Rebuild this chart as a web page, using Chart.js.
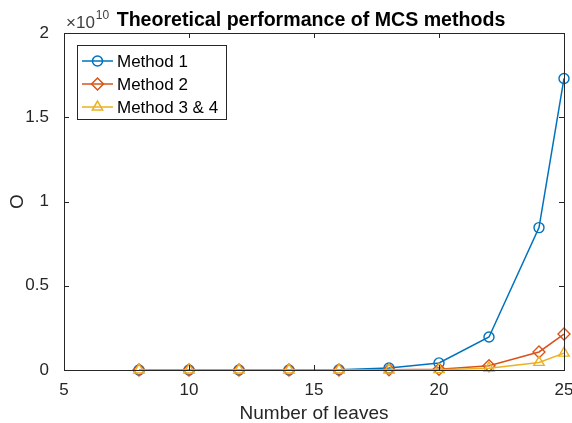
<!DOCTYPE html>
<html>
<head>
<meta charset="utf-8">
<script src="https://cdn.jsdelivr.net/npm/chart.js@4"></script>
<style>
  html, body { margin: 0; padding: 0; background: #fff; }
  #wrap { width: 572px; height: 423px; }
</style>
</head>
<body>
<div id="wrap"><canvas id="chart" width="572" height="423"></canvas></div>
<script>
// number of leaves (x)
const leaves = [8, 10, 12, 14, 16, 18, 20, 22, 24, 25];
// values (units of 1e10)
const method1 = [0, 0, 0, 0, 0.002, 0.012, 0.042, 0.196, 0.845, 1.73];
const method2 = [0, 0, 0, 0, 0, 0.001, 0.004, 0.025, 0.107, 0.213];
const method34 = [0, 0, 0, 0, 0, 0, 0.002, 0.011, 0.045, 0.1];
const xTicks = [5, 10, 15, 20, 25];
const yTicks = [0, 0.5, 1, 1.5, 2];
const seriesNames = ['Method 1', 'Method 2', 'Method 3 & 4'];

const FONT = '"Liberation Sans", Arial, sans-serif';

function toPoints(vals) {
    return leaves.map((x, i) => ({ x: x, y: vals[i] * 1e10 }));
}

const colors = ['#0072BD', '#D95319', '#EDB120'];
const shapes = ['circle', 'rectRot', 'triangle'];
const radii = [5, 6, 6];

const datasets = [method1, method2, method34].map((vals, i) => ({
    label: seriesNames[i],
    data: toPoints(vals),
    borderColor: colors[i],
    backgroundColor: 'rgba(0,0,0,0)',
    borderWidth: 1.5,
    pointStyle: shapes[i],
    pointRadius: radii[i],
    pointBorderWidth: 1.4,
    pointBackgroundColor: 'rgba(0,0,0,0)',
    pointBorderColor: colors[i],
    clip: false,
    order: 3 - i
}));

// box, inward ticks, title, exponent and legend like MATLAB
const matlabLook = {
    id: 'matlabLook',
    afterDraw(chart) {
        const ctx = chart.ctx;
        const a = chart.chartArea;
        const xs = chart.scales.x, ys = chart.scales.y;
        ctx.save();
        ctx.strokeStyle = '#262626';
        ctx.lineWidth = 1;
        ctx.strokeRect(a.left + 0.5, a.top + 0.5, a.right - a.left, a.bottom - a.top);
        const t = 5;
        ctx.beginPath();
        xTicks.forEach(v => {
            const px = Math.round(xs.getPixelForValue(v)) + 0.5;
            ctx.moveTo(px, a.bottom); ctx.lineTo(px, a.bottom - t);
            ctx.moveTo(px, a.top); ctx.lineTo(px, a.top + t);
        });
        yTicks.forEach(v => {
            const py = Math.round(ys.getPixelForValue(v * 1e10)) + 0.5;
            ctx.moveTo(a.left, py); ctx.lineTo(a.left + t, py);
            ctx.moveTo(a.right, py); ctx.lineTo(a.right - t, py);
        });
        ctx.stroke();

        // title
        ctx.fillStyle = '#000';
        ctx.font = 'bold 19.6px ' + FONT;
        ctx.textAlign = 'center';
        ctx.textBaseline = 'alphabetic';
        ctx.fillText('Theoretical performance of MCS methods', 311, 26);

        // exponent label
        ctx.fillStyle = '#404040';
        ctx.textAlign = 'left';
        ctx.font = '17px ' + FONT;
        ctx.fillText('\u00d710', a.left + 2, 28);
        const w = ctx.measureText('\u00d710').width;
        ctx.font = '12px ' + FONT;
        ctx.fillText('10', a.left + 3 + w, 19);

        // legend
        const lx = 77, ly = 45, lw = 149, lh = 74;
        ctx.fillStyle = '#fff';
        ctx.fillRect(lx, ly, lw, lh);
        ctx.strokeStyle = '#262626';
        ctx.lineWidth = 1;
        ctx.strokeRect(lx + 0.5, ly + 0.5, lw, lh);
        chart.data.datasets.forEach((ds, i) => {
            const y = ly + 16 + i * 23;
            ctx.strokeStyle = ds.borderColor;
            ctx.fillStyle = 'rgba(0,0,0,0)';
            ctx.lineWidth = 1.5;
            ctx.beginPath();
            ctx.moveTo(lx + 5, y); ctx.lineTo(lx + 36, y);
            ctx.stroke();
            Chart.helpers.drawPoint(ctx, {
                pointStyle: ds.pointStyle,
                radius: ds.pointRadius,
                borderWidth: 1.4,
                rotation: 0
            }, lx + 20.5, y);
            ctx.fillStyle = '#000';
            ctx.font = '17px ' + FONT;
            ctx.textBaseline = 'middle';
            ctx.fillText(ds.label, lx + 40, y + 1);
        });
        ctx.restore();
    }
};

new Chart(document.getElementById('chart'), {
    type: 'line',
    data: { datasets: datasets },
    options: {
        responsive: false,
        animation: false,
        layout: { padding: { top: 33, right: 8, bottom: 0, left: 0 } },
        plugins: {
            legend: { display: false },
            tooltip: { enabled: false },
            title: { display: false }
        },
        scales: {
            x: {
                type: 'linear',
                min: 5, max: 25,
                afterFit(scale) {
                    scale.height = 53;
                    scale.paddingLeft = 0;
                    scale.paddingRight = 0;
                },
                afterBuildTicks(scale) { scale.ticks = xTicks.map(v => ({ value: v })); },
                grid: { display: false },
                border: { display: false },
                ticks: { color: '#262626', font: { family: FONT, size: 17 }, padding: 2 },
                title: { display: true, text: 'Number of leaves', color: '#262626', font: { family: FONT, size: 19 }, padding: { top: 0, bottom: -2 } }
            },
            y: {
                min: 0, max: 2e10,
                afterFit(scale) {
                    scale.width = 64;
                    scale.paddingTop = 0;
                    scale.paddingBottom = 0;
                },
                afterBuildTicks(scale) { scale.ticks = yTicks.map(v => ({ value: v * 1e10 })); },
                grid: { display: false },
                border: { display: false },
                ticks: {
                    color: '#262626', font: { family: FONT, size: 17 }, padding: 7,
                    callback: v => String(v / 1e10)
                },
                title: { display: true, text: 'O', color: '#262626', font: { family: FONT, size: 19 }, padding: { top: 6, bottom: 0 } }
            }
        }
    },
    plugins: [matlabLook]
});
</script>
</body>
</html>
